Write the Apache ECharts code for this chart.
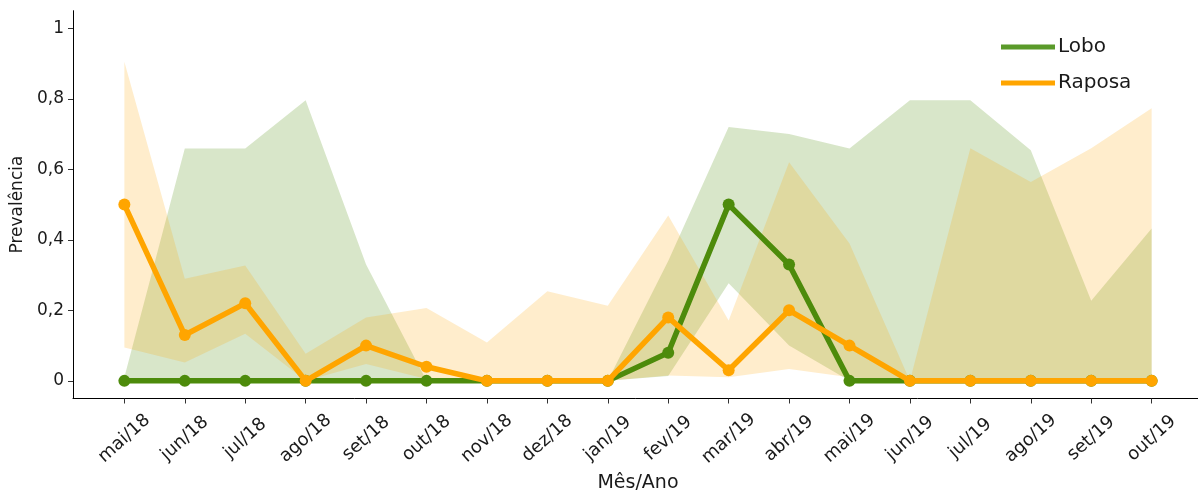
<!DOCTYPE html>
<html>
<head>
<meta charset="utf-8">
<script src="https://cdn.jsdelivr.net/npm/echarts@6/dist/echarts.min.js"></script>
<style>
html,body{margin:0;padding:0;background:#fff;}
#chart{width:1198px;height:494px;}
</style>
</head>
<body>
<div id="chart"></div>
<script>
const categories = ['mai/18','jun/18','jul/18','ago/18','set/18','out/18','nov/18','dez/18','jan/19','fev/19','mar/19','abr/19','mai/19','jun/19','jul/19','ago/19','set/19','out/19'];
const loboValues   = [0,0,0,0,0,0,0,0,0,0.08,0.5,0.33,0,0,0,0,0,0];
const raposaValues = [0.5,0.13,0.22,0,0.10,0.04,0,0,0,0.18,0.03,0.20,0.10,0,0,0,0,0];
const loboLower    = [0,0,0,0,0,0,0,0,0,0.014,0.277,0.10,0,0,0,0,0,0];
const loboUpper    = [0.01,0.659,0.659,0.796,0.33,0,0,0,0,0.34,0.72,0.70,0.659,0.796,0.796,0.654,0.227,0.432];
const raposaLower  = [0.095,0.052,0.134,0,0.048,0.005,0,0,0,0.015,0.01,0.034,0.01,0,0,0,0,0];
const raposaUpper  = [0.905,0.29,0.327,0.077,0.18,0.207,0.109,0.254,0.213,0.469,0.171,0.62,0.39,0,0.66,0.564,0.66,0.773];
const yTickValues  = [0,0.2,0.4,0.6,0.8,1];
const yTickLabels  = ['0','0,2','0,4','0,6','0,8','1'];

const GREEN = '#4d8b0b';
const ORANGE = '#ffa500';
const FONT = 'DejaVu Sans, Liberation Sans, sans-serif';
const TXT = '#1a1a1a';

function bandSeries(name, upper, lower, fill) {
  return {
    type: 'custom',
    name: name,
    silent: true,
    z: 1,
    clip: true,
    data: categories.map((c, i) => [i, upper[i], lower[i]]),
    encode: { x: 0, y: [1, 2] },
    renderItem: function (params, api) {
      if (params.dataIndex !== 0) return null;
      const pts = [];
      for (let i = 0; i < categories.length; i++) pts.push(api.coord([i, upper[i]]));
      for (let i = categories.length - 1; i >= 0; i--) pts.push(api.coord([i, lower[i]]));
      return { type: 'polygon', shape: { points: pts }, style: { fill: fill } };
    }
  };
}

function lineSeries(name, values, color, z) {
  return {
    type: 'line',
    name: name,
    z: z,
    data: values.map((v, i) => [i, v]),
    symbol: 'circle',
    symbolSize: 12,
    showSymbol: true,
    lineStyle: { color: color, width: 5.5 },
    itemStyle: { color: color },
    emphasis: { disabled: true },
    animation: false
  };
}

const chart = echarts.init(document.getElementById('chart'));
chart.setOption({
  animation: false,
  backgroundColor: '#fff',
  textStyle: { fontFamily: FONT },
  grid: { left: 73, right: -5, top: 10.7, bottom: 95.5, containLabel: false, outerBoundsMode: 'none' },
  legend: {
    orient: 'vertical',
    left: 996,
    top: 32,
    itemWidth: 54,
    itemHeight: 5,
    itemGap: 16,
    icon: 'rect',
    data: [
      { name: 'Lobo', itemStyle: { color: '#5a9a2a' } },
      { name: 'Raposa', itemStyle: { color: ORANGE } }
    ],
    textStyle: { fontFamily: FONT, fontSize: 20, color: TXT, padding: [0, 0, 0, -2] }
  },
  xAxis: {
    type: 'value',
    min: -0.85,
    max: 17.85,
    name: 'Mês/Ano',
    nameLocation: 'middle',
    nameGap: 74,
    nameTextStyle: { fontFamily: FONT, fontSize: 19, color: TXT },
    axisLine: { show: true, onZero: false, lineStyle: { color: '#000', width: 1 } },
    axisTick: { show: true, length: 5, lineStyle: { color: '#333' }, customValues: categories.map((c, i) => i) },
    axisLabel: {
      customValues: categories.map((c, i) => i),
      rotate: 42,
      align: 'center',
      verticalAlign: 'middle',
      margin: 40,
      fontFamily: FONT,
      fontSize: 18,
      color: TXT,
      formatter: function (v) { return categories[Math.round(v)]; }
    },
    splitLine: { show: false }
  },
  yAxis: {
    type: 'value',
    min: -0.05,
    max: 1.05,
    name: 'Prevalência',
    nameLocation: 'middle',
    nameGap: 46,
    nameTextStyle: { fontFamily: FONT, fontSize: 17, color: TXT },
    axisLine: { show: true, onZero: false, lineStyle: { color: '#000', width: 1 } },
    axisTick: { show: true, length: 5, lineStyle: { color: '#333' }, customValues: yTickValues },
    axisLabel: {
      customValues: yTickValues,
      margin: 9,
      fontFamily: FONT,
      fontSize: 17,
      color: TXT,
      formatter: function (v) {
        const idx = yTickValues.findIndex(t => Math.abs(t - v) < 1e-6);
        return idx >= 0 ? yTickLabels[idx] : '';
      }
    },
    splitLine: { show: false }
  },
  series: [
    bandSeries('LoboBand', loboUpper, loboLower, 'rgba(77,139,11,0.22)'),
    bandSeries('RaposaBand', raposaUpper, raposaLower, 'rgba(255,165,0,0.2)'),
    lineSeries('Lobo', loboValues, GREEN, 3),
    lineSeries('Raposa', raposaValues, ORANGE, 4)
  ]
});
</script>
</body>
</html>
